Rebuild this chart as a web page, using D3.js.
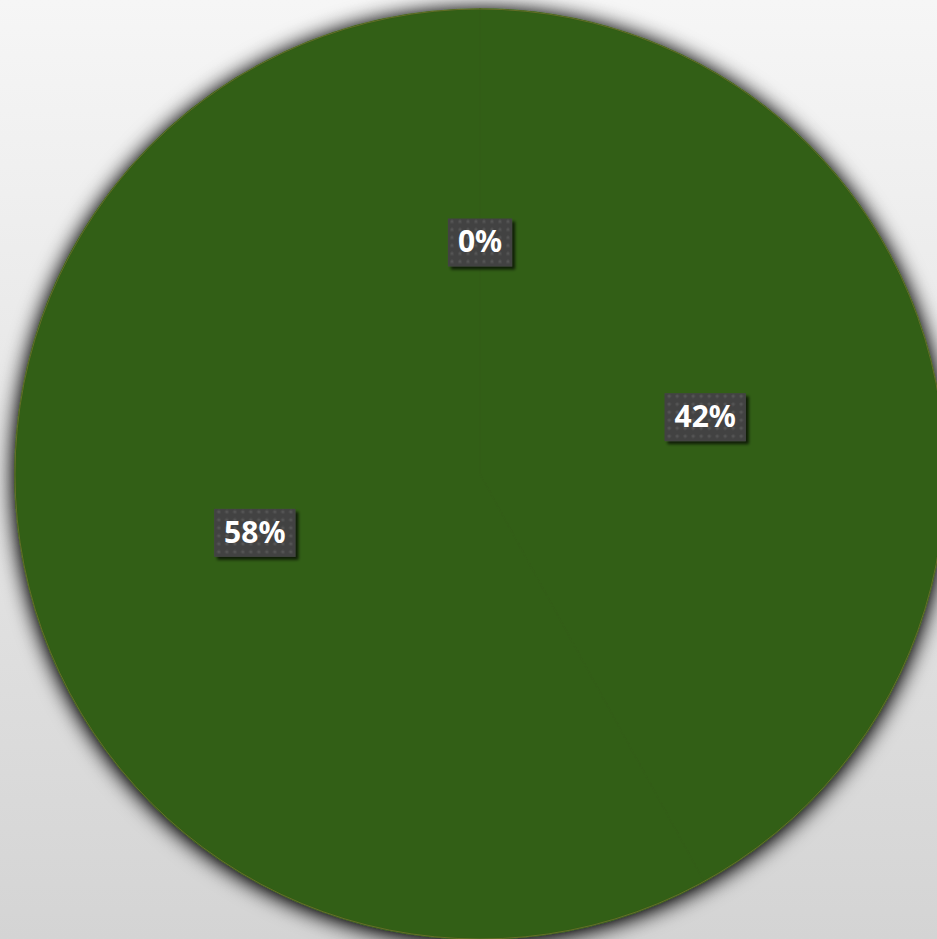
<!DOCTYPE html>
<html>
  <head>
    <meta charset="utf-8">
    <title>Pie</title>
    <style>
      html, body { margin: 0; padding: 0; }
      body { width: 937px; height: 939px; overflow: hidden; }
    </style>
  </head>
  <body>
    <div id="chart"></div>

    <script src="https://d3js.org/d3.v7.min.js"></script>
    <script>
      // data
      const categories = ["Slice 1", "Slice 2", "Slice 3"]
      const values = [0, 42, 58]
      const sliceColors = ["#335e17", "#335e17", "#335e17"]

      const width = 937, height = 939
      const cx = 480, cy = 474, radius = 465

      const svg = d3.select("#chart")
        .append("svg")
        .attr("width", width)
        .attr("height", height)

      const defs = svg.append("defs")

      const bg = defs.append("linearGradient")
        .attr("id", "bg")
        .attr("x1", 0).attr("y1", 0).attr("x2", 0).attr("y2", 1)
      bg.append("stop").attr("offset", "0%").attr("stop-color", "#f6f6f6")
      bg.append("stop").attr("offset", "100%").attr("stop-color", "#d4d4d4")

      // soft shadow round the pie
      const pieShadow = defs.append("filter")
        .attr("id", "pieShadow")
        .attr("x", "-10%").attr("y", "-10%")
        .attr("width", "120%").attr("height", "120%")
      pieShadow.append("feGaussianBlur")
        .attr("in", "SourceAlpha").attr("stdDeviation", 11).attr("result", "blur")
      pieShadow.append("feOffset")
        .attr("in", "blur").attr("dx", 0).attr("dy", 2).attr("result", "off")
      pieShadow.append("feComponentTransfer")
        .attr("in", "off").attr("result", "shadow")
        .append("feFuncA").attr("type", "linear").attr("slope", 1.3)
      const m1 = pieShadow.append("feMerge")
      m1.append("feMergeNode").attr("in", "shadow")
      m1.append("feMergeNode").attr("in", "SourceGraphic")

      // label box shadow
      const boxShadow = defs.append("filter")
        .attr("id", "boxShadow")
        .attr("x", "-20%").attr("y", "-20%")
        .attr("width", "150%").attr("height", "160%")
      boxShadow.append("feGaussianBlur")
        .attr("in", "SourceAlpha").attr("stdDeviation", 1.5).attr("result", "blur")
      boxShadow.append("feOffset")
        .attr("in", "blur").attr("dx", 3).attr("dy", 3).attr("result", "off")
      boxShadow.append("feComponentTransfer")
        .attr("in", "off").attr("result", "shadow")
        .append("feFuncA").attr("type", "linear").attr("slope", 0.7)
      const m2 = boxShadow.append("feMerge")
      m2.append("feMergeNode").attr("in", "shadow")
      m2.append("feMergeNode").attr("in", "SourceGraphic")

      // dotted texture of the label boxes
      const dots = defs.append("pattern")
        .attr("id", "dots")
        .attr("width", 8).attr("height", 8)
        .attr("patternUnits", "userSpaceOnUse")
      dots.append("rect").attr("width", 8).attr("height", 8).attr("fill", "#434343")
      dots.append("circle").attr("cx", 4).attr("cy", 4).attr("r", 1.6).attr("fill", "#555555")

      svg.append("rect")
        .attr("width", width)
        .attr("height", height)
        .attr("fill", "url(#bg)")

      const g = svg.append("g")
        .attr("transform", "translate(" + cx + "," + cy + ")")

      const pie = d3.pie().sort(null).value(d => d)
      const arcs = pie(values)

      const arc = d3.arc().innerRadius(0).outerRadius(radius)
      const labelArc = d3.arc().innerRadius(radius / 2).outerRadius(radius / 2)

      const slices = g.append("g").attr("filter", "url(#pieShadow)")
      slices.selectAll("path")
        .data(arcs)
        .join("path")
        .attr("d", arc)
        .attr("fill", (d, i) => sliceColors[i])
        .attr("stroke", (d, i) => sliceColors[i])
        .attr("stroke-width", 1.5)
        .attr("stroke-linejoin", "round")

      g.append("circle")
        .attr("r", radius)
        .attr("fill", "none")
        .attr("stroke", "#9c7f3c")
        .attr("stroke-width", 0.8)
        .attr("stroke-opacity", 0.6)

      const total = d3.sum(values)
      const labels = g.selectAll("g.label")
        .data(arcs)
        .join("g")
        .attr("class", "label")
        .attr("transform", d => "translate(" + labelArc.centroid(d) + ")")

      labels.each(function (d) {
        const lg = d3.select(this)
        const box = lg.append("rect").attr("filter", "url(#boxShadow)").attr("fill", "url(#dots)")
        const t = lg.append("text")
          .attr("text-anchor", "middle")
          .attr("dy", "0.36em")
          .attr("font-family", "'Noto Sans', sans-serif")
          .attr("font-weight", "bold")
          .attr("font-size", 30)
          .attr("fill", "#ffffff")
          .text(Math.round(d.value / total * 100) + "%")
        const w = t.node().getComputedTextLength()
        box.attr("x", -w / 2 - 10).attr("y", -23)
          .attr("width", w + 20).attr("height", 48)
      })
    </script>
  </body>
</html>
